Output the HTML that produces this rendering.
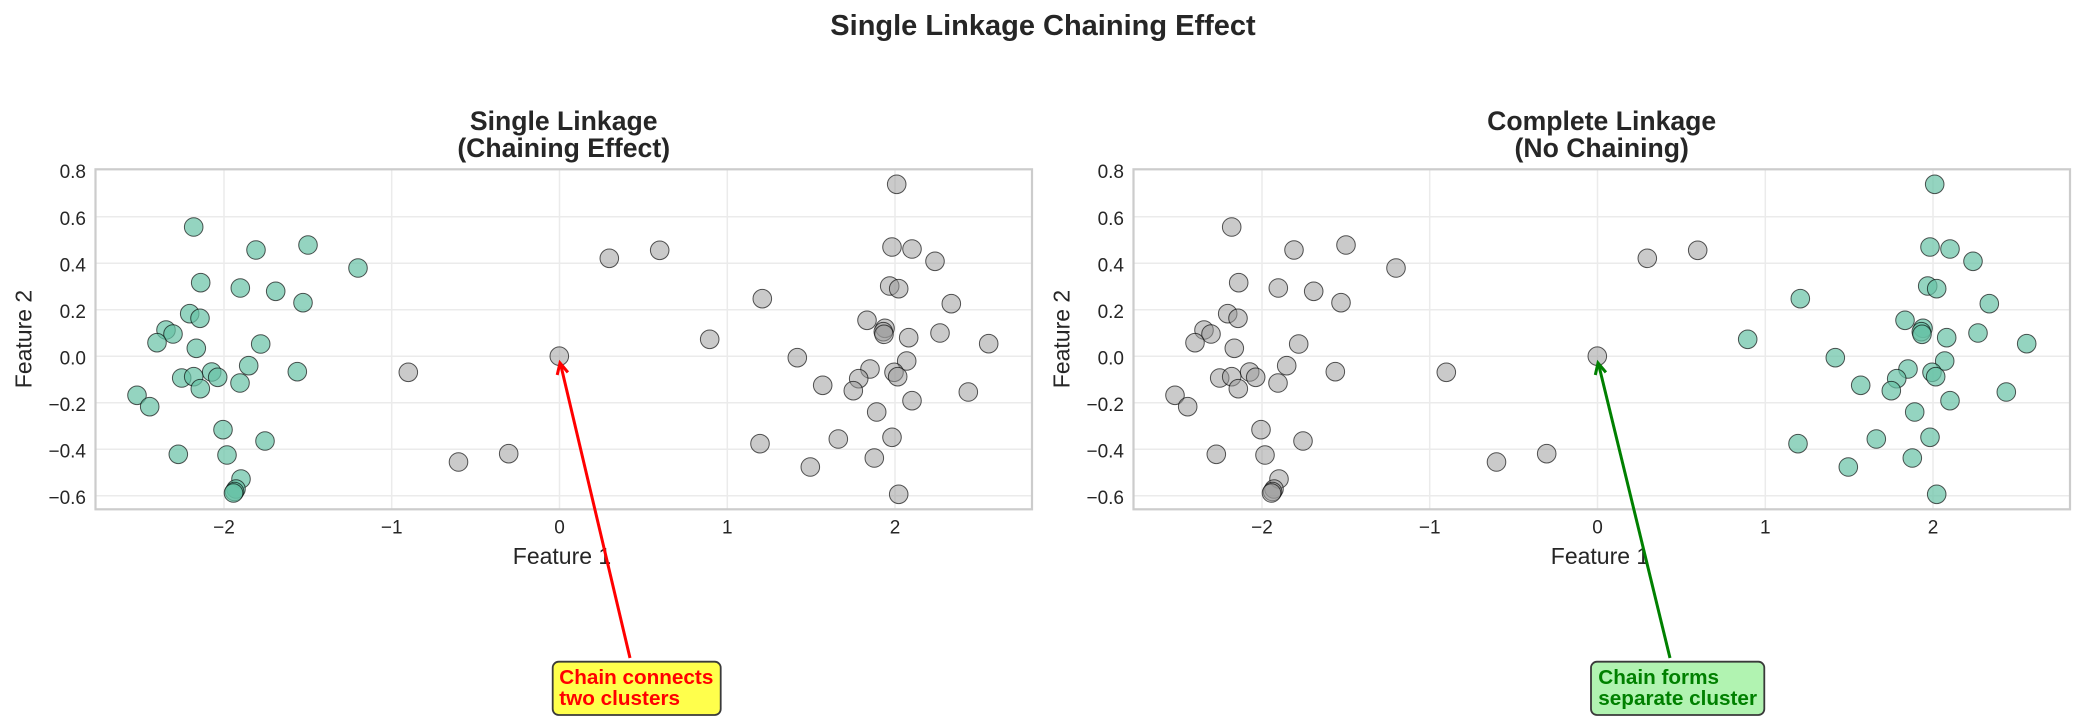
<!DOCTYPE html>
<html>
<head>
<meta charset="utf-8">
<style>
  html,body{margin:0;padding:0;background:#fff;}
  svg{display:block;}
  text{font-family:"Liberation Sans", Arial, sans-serif;fill:#262626;}
</style>
</head>
<body>
<svg width="2085" height="724" viewBox="0 0 2085 724" xmlns="http://www.w3.org/2000/svg">
<defs>
  <g id="gcl">
    <circle cx="193.7" cy="227" r="9.3"/>
    <circle cx="256" cy="250" r="9.3"/>
    <circle cx="308" cy="245" r="9.3"/>
    <circle cx="358" cy="268" r="9.3"/>
    <circle cx="200.7" cy="282.7" r="9.3"/>
    <circle cx="240.3" cy="288" r="9.3"/>
    <circle cx="275.7" cy="291.3" r="9.3"/>
    <circle cx="303" cy="302.7" r="9.3"/>
    <circle cx="189.7" cy="313.7" r="9.3"/>
    <circle cx="200" cy="318.3" r="9.3"/>
    <circle cx="166" cy="330" r="9.3"/>
    <circle cx="173" cy="334" r="9.3"/>
    <circle cx="157" cy="342.7" r="9.3"/>
    <circle cx="196.3" cy="348.3" r="9.3"/>
    <circle cx="260.7" cy="344" r="9.3"/>
    <circle cx="248.7" cy="365.7" r="9.3"/>
    <circle cx="297.3" cy="371.7" r="9.3"/>
    <circle cx="211.7" cy="372" r="9.3"/>
    <circle cx="217.7" cy="377.3" r="9.3"/>
    <circle cx="181.7" cy="378" r="9.3"/>
    <circle cx="193.7" cy="376.7" r="9.3"/>
    <circle cx="240" cy="383" r="9.3"/>
    <circle cx="200.3" cy="388.7" r="9.3"/>
    <circle cx="137" cy="395.3" r="9.3"/>
    <circle cx="149.7" cy="406.7" r="9.3"/>
    <circle cx="223" cy="429.7" r="9.3"/>
    <circle cx="265" cy="441" r="9.3"/>
    <circle cx="178.3" cy="454.3" r="9.3"/>
    <circle cx="227" cy="455" r="9.3"/>
    <circle cx="241" cy="479" r="9.3"/>
    <circle cx="236" cy="489" r="9.3"/>
    <circle cx="234.5" cy="491.5" r="9.3"/>
    <circle cx="233.5" cy="493" r="9.3"/>
  </g>
  <g id="chain">
    <circle cx="408.3" cy="372.3" r="9.3"/>
    <circle cx="458.5" cy="462" r="9.3"/>
    <circle cx="508.7" cy="453.7" r="9.3"/>
    <circle cx="559.3" cy="356.2" r="9.3"/>
    <circle cx="609.3" cy="258.3" r="9.3"/>
    <circle cx="659.7" cy="250.3" r="9.3"/>
  </g>
  <g id="rcl">
    <circle cx="896.7" cy="184.3" r="9.3"/>
    <circle cx="892" cy="247" r="9.3"/>
    <circle cx="912" cy="249" r="9.3"/>
    <circle cx="935" cy="261.3" r="9.3"/>
    <circle cx="889.7" cy="286" r="9.3"/>
    <circle cx="898.7" cy="288.7" r="9.3"/>
    <circle cx="762.3" cy="298.7" r="9.3"/>
    <circle cx="951.3" cy="303.7" r="9.3"/>
    <circle cx="867" cy="320.3" r="9.3"/>
    <circle cx="885" cy="328.3" r="9.3"/>
    <circle cx="883.3" cy="331.7" r="9.3"/>
    <circle cx="884" cy="334.3" r="9.3"/>
    <circle cx="908.7" cy="337.7" r="9.3"/>
    <circle cx="940" cy="333" r="9.3"/>
    <circle cx="988.7" cy="343.7" r="9.3"/>
    <circle cx="709.7" cy="339.3" r="9.3"/>
    <circle cx="797.3" cy="357.7" r="9.3"/>
    <circle cx="906.7" cy="361" r="9.3"/>
    <circle cx="870" cy="369" r="9.3"/>
    <circle cx="894" cy="372.3" r="9.3"/>
    <circle cx="897.7" cy="376.7" r="9.3"/>
    <circle cx="858.7" cy="378.7" r="9.3"/>
    <circle cx="853.3" cy="390.7" r="9.3"/>
    <circle cx="822.7" cy="385.3" r="9.3"/>
    <circle cx="912" cy="400.7" r="9.3"/>
    <circle cx="968.3" cy="392" r="9.3"/>
    <circle cx="876.7" cy="412" r="9.3"/>
    <circle cx="892" cy="437.3" r="9.3"/>
    <circle cx="838.3" cy="439" r="9.3"/>
    <circle cx="760" cy="443.7" r="9.3"/>
    <circle cx="874.3" cy="458" r="9.3"/>
    <circle cx="810.3" cy="467" r="9.3"/>
    <circle cx="898.7" cy="494.3" r="9.3"/>
  </g>
  <g id="axes">
    <rect x="95.5" y="169.3" width="936.5" height="340" fill="#fff"/>
    <g stroke="#ebebeb" stroke-width="1.5">
      <line x1="224" y1="169.3" x2="224" y2="509.3"/>
      <line x1="391.7" y1="169.3" x2="391.7" y2="509.3"/>
      <line x1="559.5" y1="169.3" x2="559.5" y2="509.3"/>
      <line x1="727.3" y1="169.3" x2="727.3" y2="509.3"/>
      <line x1="895" y1="169.3" x2="895" y2="509.3"/>
      <line x1="95.5" y1="216.8" x2="1032" y2="216.8"/>
      <line x1="95.5" y1="263.3" x2="1032" y2="263.3"/>
      <line x1="95.5" y1="309.8" x2="1032" y2="309.8"/>
      <line x1="95.5" y1="356.3" x2="1032" y2="356.3"/>
      <line x1="95.5" y1="402.8" x2="1032" y2="402.8"/>
      <line x1="95.5" y1="449.3" x2="1032" y2="449.3"/>
      <line x1="95.5" y1="495.8" x2="1032" y2="495.8"/>
    </g>
    <g font-size="19" text-anchor="end">
      <text x="86" y="178">0.8</text>
      <text x="86" y="224.8">0.6</text>
      <text x="86" y="271.3">0.4</text>
      <text x="86" y="317.8">0.2</text>
      <text x="86" y="364.3">0.0</text>
      <text x="86" y="410.8">−0.2</text>
      <text x="86" y="457.3">−0.4</text>
      <text x="86" y="503.8">−0.6</text>
    </g>
    <g font-size="19" text-anchor="middle">
      <text x="224" y="533.3">−2</text>
      <text x="391.7" y="533.3">−1</text>
      <text x="559.5" y="533.3">0</text>
      <text x="727.3" y="533.3">1</text>
      <text x="895" y="533.3">2</text>
    </g>
    <text x="562" y="564" font-size="23" text-anchor="middle">Feature 1</text>
    <text transform="translate(31.5,339) rotate(-90)" font-size="23" text-anchor="middle">Feature 2</text>
  </g>
</defs>

<!-- Suptitle -->
<text x="1043" y="35" font-size="29" font-weight="bold" text-anchor="middle">Single Linkage Chaining Effect</text>

<!-- LEFT PLOT -->
<use href="#axes"/>
<text x="563.7" y="130" font-size="26.6" font-weight="bold" text-anchor="middle">Single Linkage</text>
<text x="563.7" y="157" font-size="26.6" font-weight="bold" text-anchor="middle">(Chaining Effect)</text>
<g stroke="#000" stroke-opacity="0.65" stroke-width="1">
  <use href="#gcl" fill="#66c2a5" fill-opacity="0.7"/>
  <use href="#chain" fill="#999999" fill-opacity="0.52"/>
  <use href="#rcl" fill="#999999" fill-opacity="0.52"/>
</g>
<rect x="95.5" y="169.3" width="936.5" height="340" fill="none" stroke="#cccccc" stroke-width="2.2"/>

<!-- left annotation -->
<line x1="630" y1="658" x2="561" y2="366" stroke="#ff0000" stroke-width="3"/>
<polyline points="567.9,372.4 560,363 557.2,375" fill="none" stroke="#ff0000" stroke-width="3" stroke-linejoin="miter"/>
<rect x="552.7" y="661.7" width="168" height="53.3" rx="6" ry="6" fill="#ffff4c" stroke="#3a3a3a" stroke-width="1.8"/>
<text x="559.3" y="684" font-size="20.7" font-weight="bold" style="fill:#ff0000">Chain connects</text>
<text x="559.3" y="705" font-size="20.7" font-weight="bold" style="fill:#ff0000">two clusters</text>

<!-- RIGHT PLOT -->
<g transform="translate(1038,0)">
  <use href="#axes"/>
  <text x="563.7" y="130" font-size="26.6" font-weight="bold" text-anchor="middle">Complete Linkage</text>
  <text x="563.7" y="157" font-size="26.6" font-weight="bold" text-anchor="middle">(No Chaining)</text>
  <g stroke="#000" stroke-opacity="0.65" stroke-width="1">
    <use href="#gcl" fill="#999999" fill-opacity="0.52"/>
    <use href="#chain" fill="#999999" fill-opacity="0.52"/>
    <use href="#rcl" fill="#66c2a5" fill-opacity="0.7"/>
  </g>
  <rect x="95.5" y="169.3" width="936.5" height="340" fill="none" stroke="#cccccc" stroke-width="2.2"/>
</g>

<!-- right annotation -->
<line x1="1670" y1="658" x2="1599" y2="366" stroke="#008000" stroke-width="3"/>
<polyline points="1605.9,372.4 1598,363 1595.3,375" fill="none" stroke="#008000" stroke-width="3" stroke-linejoin="miter"/>
<rect x="1591" y="661.7" width="173.3" height="53.3" rx="6" ry="6" fill="#b1f3b1" stroke="#3a3a3a" stroke-width="1.8"/>
<text x="1598.3" y="684" font-size="20.7" font-weight="bold" style="fill:#008000">Chain forms</text>
<text x="1598.3" y="705" font-size="20.7" font-weight="bold" style="fill:#008000">separate cluster</text>
</svg>
</body>
</html>
